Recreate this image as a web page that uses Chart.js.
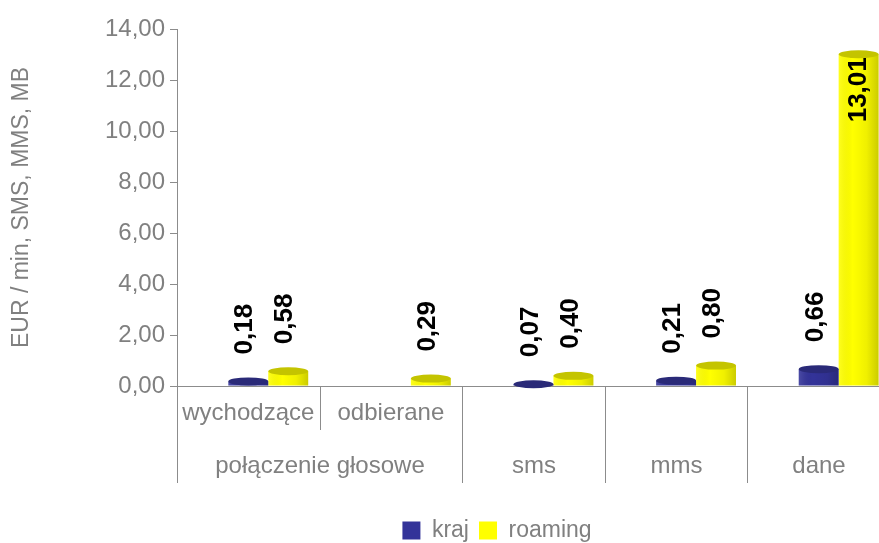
<!DOCTYPE html>
<html>
<head>
<meta charset="utf-8">
<script src="https://cdn.jsdelivr.net/npm/chart.js@4.4.0/dist/chart.umd.min.js"></script>
<style>
  html, body { margin: 0; padding: 0; overflow: hidden; background: #fff; }
</style>
</head>
<body>
<canvas id="chart" width="890" height="552"></canvas>
<script>
// categories on the x axis, with their sub / group labels
const categories = ['wychodzące', 'odbierane', 'sms', 'mms', 'dane'];
const subLabels = ['wychodzące', 'odbierane', '', '', ''];
const groupLabels = ['połączenie głosowe', 'połączenie głosowe', 'sms', 'mms', 'dane'];

// series
const krajValues = [0.18, null, 0.07, 0.21, 0.66];
const roamingValues = [0.58, 0.29, 0.40, 0.80, 13.01];
const spacerValues = [null, null, null, null, null]; // empty slot, pushes bar pairs right like the 3D original

// y ticks
const yTicks = [0, 2, 4, 6, 8, 10, 12, 14];

const FONT = '"Liberation Sans", Arial, sans-serif';
const GRAY = '#808080';
const AXIS = '#8c8c8c';
const BLUE = '#333399';
const YELLOW = '#ffff00';

const fmt = v => v.toFixed(2).replace('.', ',');

// shading + top cap so bars look a bit like the 3D cylinders
const barLookPlugin = {
  id: 'barLook',
  afterDatasetsDraw(chart) {
    const ctx = chart.ctx;
    chart.data.datasets.forEach((ds, di) => {
      if (!ds.cap) return;
      chart.getDatasetMeta(di).data.forEach((bar, i) => {
        if (ds.data[i] == null) return;
        const w = bar.width, l = bar.x - w / 2;
        ctx.save();
        const g = ctx.createLinearGradient(l, 0, l + w, 0);
        g.addColorStop(0, 'rgba(255,255,255,0.12)');
        g.addColorStop(0.35, 'rgba(0,0,0,0)');
        g.addColorStop(0.7, 'rgba(0,0,0,0.06)');
        g.addColorStop(1, 'rgba(0,0,0,0.2)');
        ctx.fillStyle = g;
        ctx.fillRect(l, bar.y, w, bar.base - bar.y);
        ctx.fillStyle = ds.cap;
        ctx.beginPath();
        ctx.ellipse(bar.x, bar.y, w / 2, 4, 0, 0, Math.PI * 2);
        ctx.fill();
        ctx.restore();
      });
    });
  }
};

// rotated value labels
const valueLabelPlugin = {
  id: 'valueLabels',
  afterDatasetsDraw(chart) {
    const ctx = chart.ctx;
    ctx.save();
    ctx.font = 'bold 26px ' + FONT;
    ctx.fillStyle = '#000';
    ctx.textBaseline = 'middle';
    chart.data.datasets.forEach((ds, di) => {
      if (!ds.cap) return;
      chart.getDatasetMeta(di).data.forEach((bar, i) => {
        const v = ds.data[i];
        if (v == null) return;
        const text = fmt(v);
        const len = ctx.measureText(text).width;
        ctx.save();
        if (bar.base - bar.y > len + 40) {
          ctx.translate(bar.x, bar.y + 3);
          ctx.rotate(-Math.PI / 2);
          ctx.textAlign = 'right';
        } else {
          ctx.translate(bar.x - 3, bar.y - 27);
          ctx.rotate(-Math.PI / 2);
          ctx.textAlign = 'left';
        }
        ctx.fillText(text, 0, 0);
        ctx.restore();
      });
    });
    ctx.restore();
  }
};

// two-level category axis
const categoryAxisPlugin = {
  id: 'categoryAxis',
  afterDraw(chart) {
    const x = chart.scales.x;
    const ctx = chart.ctx;
    const n = categories.length;
    const step = (x.right - x.left) / n;
    const edge = i => Math.round(x.left + i * step) + 0.5;
    const top = x.top;
    const line = (px, y1, y2) => { ctx.beginPath(); ctx.moveTo(px, y1); ctx.lineTo(px, y2); ctx.stroke(); };
    ctx.save();
    ctx.strokeStyle = AXIS;
    ctx.lineWidth = 1;
    ctx.fillStyle = GRAY;
    ctx.font = '24px ' + FONT;
    ctx.textAlign = 'center';
    ctx.textBaseline = 'middle';
    categories.forEach((c, i) => {
      if (!subLabels[i]) return;
      ctx.fillText(subLabels[i], x.getPixelForValue(i), top + 27);
      if (i > 0 && subLabels[i - 1] && groupLabels[i - 1] === groupLabels[i]) line(edge(i), top, top + 44);
    });
    let start = 0;
    for (let i = 1; i <= n; i++) {
      if (i === n || groupLabels[i] !== groupLabels[start]) {
        ctx.fillText(groupLabels[start], (edge(start) + edge(i)) / 2, top + 80);
        line(edge(start), top, top + 97);
        start = i;
      }
    }
    ctx.restore();
  }
};

// the original legend sits right of the page centre
const legendShiftPlugin = {
  id: 'legendShift',
  afterLayout(chart) {
    chart.legend.left += 52;
    chart.legend.right += 52;
  }
};

new Chart(document.getElementById('chart'), {
  type: 'bar',
  data: {
    labels: categories,
    datasets: [
      { label: '', data: spacerValues, backgroundColor: 'rgba(0,0,0,0)' },
      { label: 'kraj', data: krajValues, backgroundColor: BLUE, cap: '#2a2a78' },
      { label: 'roaming', data: roamingValues, backgroundColor: YELLOW, cap: '#c4c400' }
    ]
  },
  options: {
    responsive: false,
    animation: false,
    categoryPercentage: 0.84,
    barPercentage: 1.0,
    layout: { padding: { top: 29, left: 0, right: 0, bottom: 0 } },
    plugins: {
      tooltip: { enabled: false },
      legend: {
        position: 'bottom',
        labels: {
          filter: item => item.text !== '',
          color: GRAY,
          font: { family: FONT, size: 23 },
          boxWidth: 18,
          boxHeight: 18,
          padding: 10
        }
      }
    },
    scales: {
      x: {
        grid: { display: false },
        border: { display: true, color: AXIS },
        ticks: { display: false },
        afterFit: scale => { scale.height = 123; }
      },
      y: {
        min: 0,
        max: 14,
        afterBuildTicks: scale => { scale.ticks = yTicks.map(v => ({ value: v })); },
        grid: { display: true, drawOnChartArea: false, drawTicks: true, tickLength: 7, color: AXIS },
        border: { display: true, color: AXIS },
        ticks: {
          color: GRAY,
          padding: 5,
          font: { family: FONT, size: 24 },
          callback: v => fmt(v)
        },
        title: {
          display: true,
          text: 'EUR / min, SMS, MMS, MB',
          color: GRAY,
          font: { family: FONT, size: 23 },
          padding: { top: 8, bottom: 0 }
        },
        afterFit: scale => { scale.width = 177; }
      }
    }
  },
  plugins: [barLookPlugin, valueLabelPlugin, categoryAxisPlugin, legendShiftPlugin]
});
</script>
</body>
</html>
